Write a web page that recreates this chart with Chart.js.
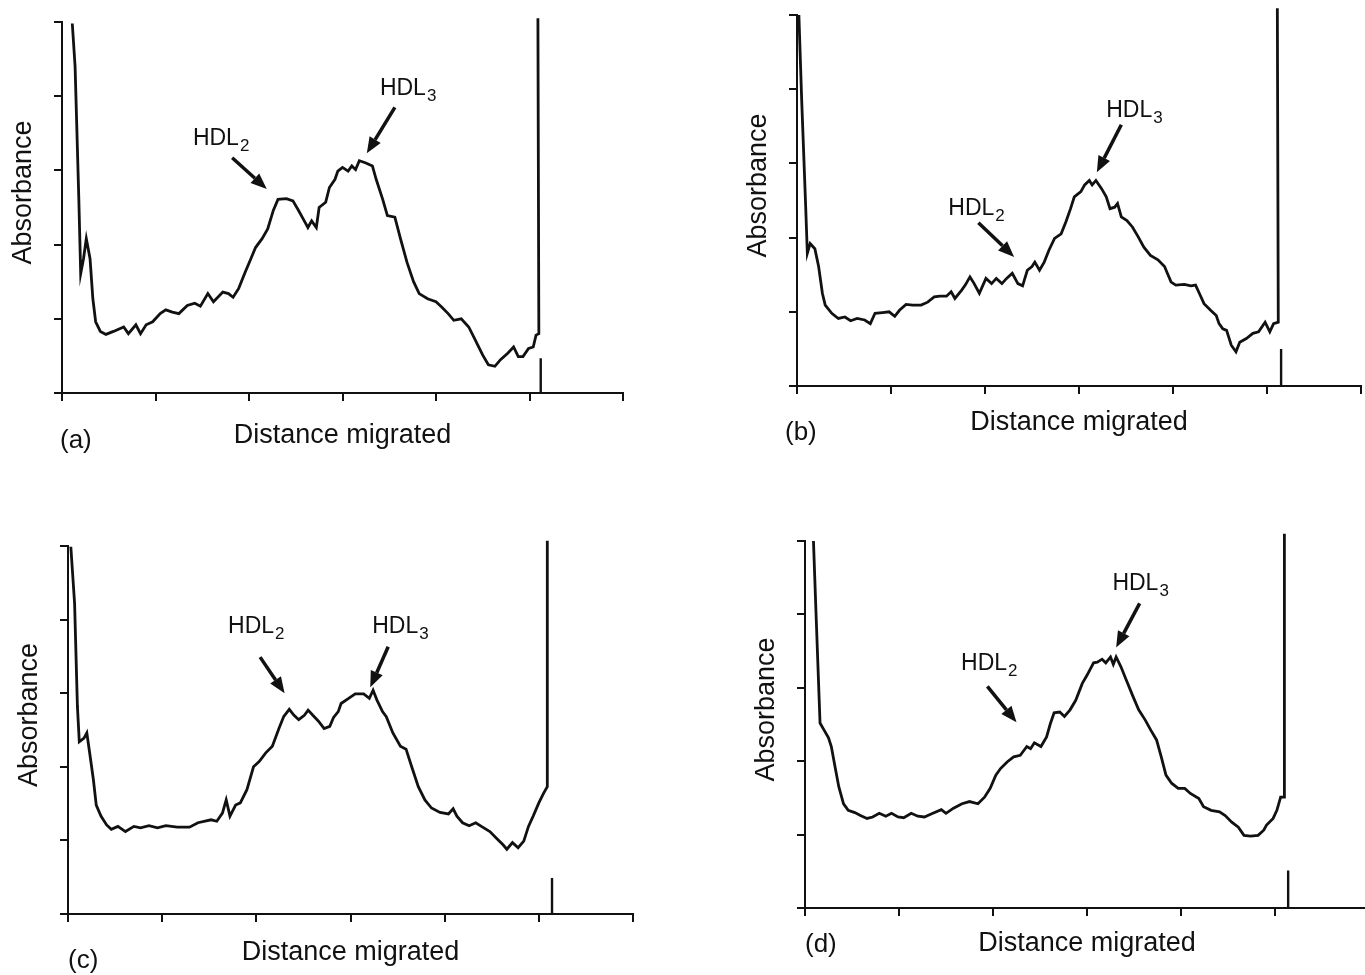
<!DOCTYPE html>
<html>
<head>
<meta charset="utf-8">
<script src="https://cdn.jsdelivr.net/npm/chart.js@4.4.1/dist/chart.umd.min.js"></script>
<style>
html,body{margin:0;padding:0;background:#fff;overflow:hidden;width:1365px;height:975px}
.panel{position:absolute}
</style>
</head>
<body>
<div class="panel" id="pa"><canvas id="cA"></canvas></div>
<div class="panel" id="pb"><canvas id="cB"></canvas></div>
<div class="panel" id="pc"><canvas id="cC"></canvas></div>
<div class="panel" id="pd"><canvas id="cD"></canvas></div>
<script>
// densitometer scans, x = distance migrated, y = absorbance
const traceA = [[0.11,4.98],[0.14,4.4],[0.18,2.61],[0.2,1.61],[0.23,1.81],[0.26,2.08],[0.3,1.81],[0.33,1.27],[0.36,0.96],[0.41,0.83],[0.47,0.79],[0.55,0.83],[0.66,0.89],[0.71,0.8],[0.79,0.92],[0.84,0.8],[0.9,0.92],[0.97,0.96],[1.05,1.07],[1.11,1.12],[1.18,1.09],[1.25,1.07],[1.34,1.18],[1.42,1.21],[1.48,1.17],[1.56,1.34],[1.62,1.23],[1.72,1.36],[1.78,1.34],[1.83,1.29],[1.89,1.41],[1.96,1.63],[2.02,1.81],[2.07,1.96],[2.14,2.08],[2.2,2.21],[2.26,2.46],[2.31,2.61],[2.4,2.62],[2.47,2.59],[2.53,2.46],[2.6,2.3],[2.63,2.23],[2.67,2.32],[2.72,2.23],[2.75,2.5],[2.82,2.57],[2.86,2.77],[2.92,2.88],[2.95,2.99],[3.0,3.04],[3.06,2.99],[3.1,3.06],[3.14,3.01],[3.18,3.13],[3.25,3.1],[3.32,3.06],[3.36,2.88],[3.43,2.61],[3.48,2.39],[3.56,2.37],[3.62,2.08],[3.69,1.76],[3.76,1.5],[3.82,1.34],[3.91,1.27],[4.0,1.23],[4.06,1.16],[4.13,1.07],[4.19,0.98],[4.27,1.0],[4.35,0.89],[4.41,0.74],[4.5,0.51],[4.56,0.38],[4.63,0.36],[4.69,0.45],[4.77,0.54],[4.83,0.62],[4.88,0.49],[4.93,0.49],[4.99,0.6],[5.04,0.62],[5.07,0.78],[5.1,0.8],[5.09,5.05]]
const traceB = [[0.02,5.0],[0.05,3.85],[0.09,2.5],[0.11,1.79],[0.14,1.92],[0.19,1.85],[0.23,1.61],[0.27,1.25],[0.3,1.09],[0.37,0.98],[0.44,0.91],[0.51,0.93],[0.57,0.88],[0.64,0.91],[0.72,0.89],[0.78,0.84],[0.83,0.98],[0.91,0.99],[0.98,1.0],[1.04,0.94],[1.09,1.02],[1.16,1.1],[1.23,1.09],[1.32,1.09],[1.39,1.13],[1.46,1.2],[1.52,1.21],[1.59,1.21],[1.64,1.27],[1.68,1.18],[1.75,1.29],[1.79,1.36],[1.84,1.47],[1.88,1.39],[1.94,1.25],[2.01,1.45],[2.07,1.38],[2.12,1.45],[2.18,1.38],[2.23,1.45],[2.29,1.52],[2.35,1.38],[2.4,1.35],[2.45,1.56],[2.5,1.61],[2.53,1.67],[2.58,1.56],[2.63,1.67],[2.68,1.83],[2.74,1.99],[2.81,2.05],[2.86,2.21],[2.91,2.39],[2.95,2.55],[3.02,2.62],[3.06,2.71],[3.11,2.77],[3.14,2.71],[3.18,2.77],[3.24,2.66],[3.29,2.55],[3.33,2.39],[3.38,2.41],[3.41,2.46],[3.45,2.28],[3.51,2.23],[3.57,2.14],[3.63,2.01],[3.69,1.87],[3.76,1.76],[3.84,1.7],[3.91,1.61],[3.94,1.52],[3.98,1.4],[4.03,1.36],[4.12,1.37],[4.19,1.35],[4.24,1.36],[4.28,1.25],[4.33,1.11],[4.4,1.02],[4.46,0.95],[4.49,0.84],[4.53,0.77],[4.57,0.75],[4.62,0.55],[4.67,0.46],[4.71,0.59],[4.78,0.64],[4.85,0.71],[4.91,0.73],[4.98,0.86],[5.03,0.73],[5.07,0.84],[5.12,0.86],[5.11,5.09]]
const traceC = [[0.03,4.99],[0.07,4.22],[0.1,2.82],[0.12,2.34],[0.17,2.39],[0.2,2.46],[0.23,2.19],[0.27,1.82],[0.3,1.48],[0.35,1.33],[0.41,1.21],[0.46,1.15],[0.53,1.19],[0.61,1.12],[0.7,1.19],[0.77,1.17],[0.86,1.2],[0.95,1.17],[1.04,1.2],[1.16,1.18],[1.29,1.18],[1.38,1.24],[1.52,1.28],[1.58,1.26],[1.64,1.37],[1.68,1.55],[1.72,1.33],[1.78,1.48],[1.83,1.51],[1.9,1.69],[1.97,2.0],[2.03,2.07],[2.1,2.19],[2.17,2.28],[2.24,2.52],[2.29,2.68],[2.35,2.78],[2.4,2.7],[2.45,2.64],[2.51,2.7],[2.55,2.77],[2.6,2.7],[2.66,2.62],[2.72,2.52],[2.78,2.55],[2.82,2.67],[2.87,2.75],[2.9,2.86],[2.98,2.93],[3.05,2.99],[3.14,2.99],[3.2,2.93],[3.24,3.04],[3.28,2.91],[3.34,2.75],[3.38,2.68],[3.45,2.46],[3.53,2.28],[3.59,2.24],[3.65,2.0],[3.72,1.73],[3.79,1.55],[3.86,1.44],[3.95,1.38],[4.04,1.36],[4.09,1.43],[4.13,1.33],[4.19,1.24],[4.26,1.2],[4.33,1.24],[4.39,1.19],[4.48,1.12],[4.55,1.03],[4.62,0.94],[4.66,0.88],[4.72,0.97],[4.78,0.9],[4.84,0.99],[4.89,1.19],[4.94,1.33],[5.0,1.51],[5.05,1.64],[5.09,1.73],[5.09,5.07]]
const traceD = [[0.09,5.0],[0.12,3.92],[0.16,2.52],[0.2,2.43],[0.25,2.32],[0.28,2.2],[0.32,1.92],[0.36,1.65],[0.41,1.42],[0.46,1.33],[0.53,1.3],[0.59,1.26],[0.66,1.22],[0.72,1.24],[0.79,1.29],[0.86,1.25],[0.92,1.29],[0.99,1.24],[1.05,1.23],[1.13,1.29],[1.2,1.25],[1.27,1.24],[1.36,1.29],[1.45,1.34],[1.5,1.29],[1.58,1.36],[1.67,1.42],[1.75,1.45],[1.84,1.42],[1.91,1.51],[1.97,1.63],[2.03,1.81],[2.08,1.9],[2.15,1.99],[2.22,2.06],[2.29,2.08],[2.36,2.2],[2.4,2.17],[2.44,2.25],[2.51,2.2],[2.57,2.33],[2.61,2.51],[2.65,2.66],[2.71,2.67],[2.76,2.61],[2.82,2.7],[2.88,2.83],[2.95,3.06],[3.0,3.17],[3.07,3.34],[3.11,3.35],[3.16,3.39],[3.2,3.34],[3.25,3.42],[3.28,3.32],[3.31,3.42],[3.36,3.29],[3.42,3.1],[3.49,2.88],[3.55,2.7],[3.62,2.56],[3.68,2.42],[3.74,2.29],[3.79,2.06],[3.84,1.81],[3.9,1.7],[3.97,1.63],[4.04,1.63],[4.1,1.56],[4.19,1.49],[4.24,1.38],[4.32,1.33],[4.41,1.31],[4.47,1.26],[4.54,1.17],[4.61,1.1],[4.67,0.99],[4.74,0.98],[4.82,0.99],[4.88,1.06],[4.91,1.13],[4.98,1.22],[5.02,1.33],[5.06,1.51],[5.1,1.51],[5.1,5.1]]

// end-of-run marker on each scan
const endA = [[5.12,0.47],[5.12,0]]
const endB = [[5.15,0.5],[5.15,0]]
const endC = [[5.14,0.49],[5.14,0]]
const endD = [[5.14,0.51],[5.14,0]]

const panelLabels = ['(a)','(b)','(c)','(d)']
const xTitle = 'Distance migrated'
const yTitle = 'Absorbance'
const xMax = 6, yMax = 5

const FONT = '"Liberation Sans", Arial, Helvetica, sans-serif'
const INK = '#111'

// page layout, in px: canvas box, and where the plot area sits
const panels = [
  {el:'pa', cv:'cA', box:[0,0,700,487], plot:[62,22,623,393], trace:traceA, end:endA,
   label:panelLabels[0], labelAt:[-2,55], titleAt:50,
   notes:[{sub:'2', text:[1.40,3.34], tail:[1.82,3.17], tip:[2.19,2.75]},
          {sub:'3', text:[3.40,4.02], tail:[3.56,3.85], tip:[3.26,3.23]}]},
  {el:'pb', cv:'cB', box:[700,0,700,487], plot:[797,15,1361,386], trace:traceB, end:endB,
   label:panelLabels[1], labelAt:[-12,54], titleAt:44,
   notes:[{sub:'2', text:[1.61,2.30], tail:[1.93,2.20], tip:[2.31,1.74]},
          {sub:'3', text:[3.29,3.63], tail:[3.45,3.52], tip:[3.19,2.88]}]},
  {el:'pc', cv:'cC', box:[0,487,700,488], plot:[68,546,633,914], trace:traceC, end:endC,
   label:panelLabels[2], labelAt:[0,54], titleAt:46,
   notes:[{sub:'2', text:[1.70,3.82], tail:[2.04,3.49], tip:[2.30,3.00]},
          {sub:'3', text:[3.23,3.82], tail:[3.40,3.63], tip:[3.21,3.08]}]},
  {el:'pd', cv:'cD', box:[700,487,700,488], plot:[805,541,1369,908], trace:traceD, end:endD,
   label:panelLabels[3], labelAt:[0,44], titleAt:43,
   notes:[{sub:'2', text:[1.66,3.24], tail:[1.94,3.02], tip:[2.25,2.53]},
          {sub:'3', text:[3.27,4.33], tail:[3.56,4.15], tip:[3.31,3.55]}]}
]

function drawArrow(ctx, x1, y1, x2, y2){
    let ang = Math.atan2(y2-y1, x2-x1)
    let len = 16, half = 6.5
    let bx = x2 - len*Math.cos(ang)
    let by = y2 - len*Math.sin(ang)
    ctx.lineWidth = 3.5
    ctx.beginPath()
    ctx.moveTo(x1,y1)
    ctx.lineTo(bx,by)
    ctx.stroke()
    ctx.beginPath()
    ctx.moveTo(x2,y2)
    ctx.lineTo(bx + half*Math.sin(ang), by - half*Math.cos(ang))
    ctx.lineTo(bx - half*Math.sin(ang), by + half*Math.cos(ang))
    ctx.closePath()
    ctx.fill()
}

const panelText = {
    id:'panelText',
    afterDraw(chart, args, opts){
        let {ctx, chartArea, scales} = chart
        let p = opts.panel
        let px = v => scales.x.getPixelForValue(v)
        let py = v => scales.y.getPixelForValue(v)
        ctx.save()
        ctx.fillStyle = INK
        ctx.strokeStyle = INK

        // y title
        ctx.save()
        ctx.translate(chartArea.left - 38, (chartArea.top + chartArea.bottom)/2 - 15)
        ctx.rotate(-Math.PI/2)
        ctx.font = '27px ' + FONT
        ctx.textAlign = 'center'
        ctx.textBaseline = 'middle'
        ctx.fillText(yTitle, 0, 0)
        ctx.restore()

        // x title and panel letter
        ctx.font = '27px ' + FONT
        ctx.textAlign = 'center'
        ctx.textBaseline = 'alphabetic'
        ctx.fillText(xTitle, (chartArea.left + chartArea.right)/2, chartArea.bottom + p.titleAt)
        ctx.font = '26px ' + FONT
        ctx.textAlign = 'left'
        ctx.fillText(p.label, chartArea.left + p.labelAt[0], chartArea.bottom + p.labelAt[1])

        // HDL annotations
        p.notes.forEach((n)=>{
            let lx = px(n.text[0]), ly = py(n.text[1])
            ctx.font = '23px ' + FONT
            ctx.fillText('HDL', lx, ly)
            let w = ctx.measureText('HDL').width
            ctx.font = '17px ' + FONT
            ctx.fillText(n.sub, lx + w + 1, ly + 6)
            drawArrow(ctx, px(n.tail[0]), py(n.tail[1]), px(n.tip[0]), py(n.tip[1]))
        })
        ctx.restore()
    }
}

function axis(max, fit){
    return {
        type:'linear', min:0, max:max,
        ticks:{stepSize:1, display:false},
        grid:{drawOnChartArea:false, drawTicks:true, tickLength:8, color:INK, lineWidth:2},
        border:{display:true, color:INK, width:2},
        afterFit: fit
    }
}

function renderPanel(p){
    let div = document.getElementById(p.el)
    div.style.left = p.box[0] + 'px'
    div.style.top = p.box[1] + 'px'
    div.style.width = p.box[2] + 'px'
    div.style.height = p.box[3] + 'px'

    let pad = {
        left: p.plot[0] - p.box[0] - 10,
        top: p.plot[1] - p.box[1],
        right: p.box[0] + p.box[2] - p.plot[2],
        bottom: p.box[1] + p.box[3] - p.plot[3] - 10
    }

    new Chart(document.getElementById(p.cv), {
        type:'line',
        data:{
            datasets:[
                {data:p.trace.map(d=>({x:d[0], y:d[1]})), borderColor:INK, borderWidth:2.8, pointRadius:0, clip:false},
                {data:p.end.map(d=>({x:d[0], y:d[1]})), borderColor:INK, borderWidth:2.4, pointRadius:0, clip:false}
            ]
        },
        options:{
            responsive:true, maintainAspectRatio:false, animation:false,
            layout:{padding:pad},
            plugins:{legend:{display:false}, tooltip:{enabled:false}, panelText:{panel:p}},
            scales:{
                x: axis(xMax, s=>{ s.height = 10 }),
                y: axis(yMax, s=>{ s.width = 10 })
            }
        },
        plugins:[panelText]
    })
}

panels.forEach(renderPanel)
</script>
</body>
</html>
